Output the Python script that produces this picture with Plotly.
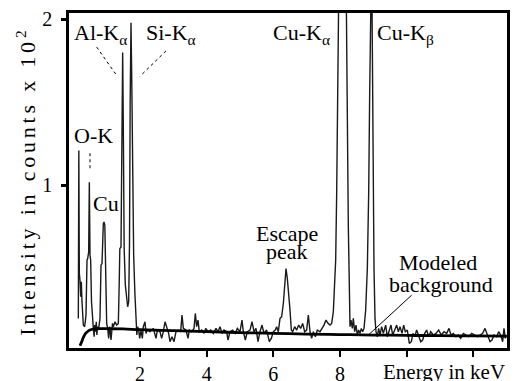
import plotly.graph_objects as go

# EDS spectrum: energy (keV) and intensity (counts x 10^2)
energy_keV = [
    0.150, 0.165, 0.180, 0.200, 0.220, 0.240, 0.260, 0.300, 0.340, 0.380,
    0.410, 0.430, 0.460, 0.480, 0.500, 0.520, 0.545, 0.575, 0.600, 0.625,
    0.640, 0.660, 0.690, 0.705, 0.730, 0.760, 0.800, 0.830, 0.860, 0.900,
    0.920, 0.945, 0.975, 1.000, 1.030, 1.060, 1.085, 1.100, 1.130, 1.160,
    1.175, 1.200, 1.250, 1.300, 1.350, 1.375, 1.395, 1.430, 1.455, 1.480,
    1.500, 1.525, 1.560, 1.600, 1.630, 1.660, 1.685, 1.705, 1.730, 1.755,
    1.780, 1.810, 1.845, 1.880, 1.905, 1.930, 1.960, 1.990,
    2.03, 2.07, 2.10, 2.15, 2.18, 2.22, 2.30, 2.40, 2.48, 2.52,
    2.60, 2.65, 2.70, 2.75, 2.80, 2.86, 2.90, 2.96, 3.02, 3.08,
    3.15, 3.22, 3.26, 3.30, 3.38, 3.44, 3.48, 3.55, 3.62, 3.66,
    3.70, 3.74, 3.78, 3.85, 3.92, 3.97, 4.05, 4.12, 4.20, 4.28,
    4.34, 4.40, 4.46, 4.52, 4.60, 4.64, 4.70, 4.78, 4.86, 4.92,
    5.00, 5.06, 5.10, 5.16, 5.22, 5.30, 5.36, 5.42, 5.48, 5.54,
    5.60, 5.66, 5.72, 5.80, 5.88, 5.94, 6.00, 6.06, 6.10, 6.15,
    6.20, 6.25, 6.30, 6.34, 6.38, 6.42, 6.46, 6.50, 6.54, 6.58,
    6.64, 6.70, 6.76, 6.82, 6.88, 6.94, 7.00, 7.05, 7.10, 7.15,
    7.20, 7.26, 7.32, 7.40, 7.46, 7.52, 7.58, 7.64, 7.70,
    7.75, 7.80, 7.84, 7.87, 7.90, 7.93, 7.96, 8.00, 8.05, 8.10,
    8.15, 8.19, 8.22, 8.25, 8.28, 8.30,
    8.33, 8.37, 8.40, 8.44, 8.48, 8.52, 8.56, 8.60, 8.64, 8.68,
    8.72, 8.77, 8.82, 8.86, 8.89, 8.92, 8.94, 8.96, 8.98, 9.00,
    9.02, 9.05, 9.08,
    9.12, 9.16, 9.20, 9.25, 9.30, 9.37, 9.42, 9.48, 9.53, 9.58,
    9.64, 9.70, 9.75, 9.80, 9.86, 9.91, 9.96, 10.02, 10.08, 10.14,
    10.19, 10.24, 10.30, 10.36, 10.42, 10.48, 10.54, 10.60, 10.66, 10.72,
    10.80, 10.88, 10.96, 11.04, 11.12, 11.20, 11.27, 11.33, 11.40, 11.48,
    11.55, 11.62, 11.70, 11.78, 11.86, 11.95, 12.04, 12.12, 12.20, 12.28,
    12.35, 12.42, 12.50, 12.56, 12.62, 12.70, 12.76, 12.82, 12.88, 12.92,
    12.96, 13.00,
]
intensity = [
    0.20, 1.21, 0.47, 0.43, 0.33, 0.42, 0.30, 0.16, 0.15, 0.22,
    0.55, 0.56, 0.60, 1.02, 0.58, 0.55, 0.30, 0.17, 0.14, 0.09,
    0.16, 0.12, 0.18, 0.10, 0.15, 0.14, 0.20, 0.52, 0.53, 0.77,
    0.78, 0.76, 0.40, 0.17, 0.14, 0.08, 0.15, 0.14, 0.07, 0.13,
    0.17, 0.15, 0.18, 0.16, 0.17, 0.40, 0.62, 0.63, 1.20, 1.80,
    1.35, 0.62, 0.40, 0.30, 0.27, 0.30, 0.65, 1.50, 1.98, 1.60,
    0.90, 0.58, 0.36, 0.19, 0.10, 0.15, 0.13, 0.08,
    0.13, 0.08, 0.15, 0.18, 0.11, 0.13, 0.12, 0.14, 0.08, 0.13,
    0.12, 0.08, 0.12, 0.18, 0.15, 0.11, 0.06, 0.09, 0.06, 0.12,
    0.13, 0.12, 0.22, 0.14, 0.13, 0.08, 0.13, 0.12, 0.14, 0.23,
    0.15, 0.19, 0.12, 0.13, 0.11, 0.14, 0.12, 0.13, 0.11, 0.14,
    0.12, 0.15, 0.11, 0.13, 0.12, 0.07, 0.12, 0.13, 0.11, 0.14,
    0.12, 0.19, 0.12, 0.07, 0.12, 0.13, 0.18, 0.12, 0.14, 0.06,
    0.12, 0.16, 0.11, 0.13, 0.06, 0.08, 0.12, 0.13, 0.15, 0.12,
    0.20, 0.21, 0.29, 0.38, 0.50, 0.44, 0.36, 0.25, 0.13, 0.12,
    0.15, 0.13, 0.16, 0.14, 0.17, 0.12, 0.13, 0.22, 0.12, 0.08,
    0.12, 0.09, 0.13, 0.12, 0.14, 0.16, 0.19, 0.17, 0.16,
    0.17, 0.24, 0.45, 0.55, 0.95, 1.70, 2.20, 2.90, 3.30, 3.10,
    2.60, 2.10, 1.30, 0.75, 0.40, 0.15,
    0.19, 0.14, 0.20, 0.12, 0.16, 0.10, 0.13, 0.11, 0.14, 0.12,
    0.14, 0.25, 0.50, 0.95, 1.55, 2.10, 2.30, 2.10, 1.50, 0.90,
    0.50, 0.20, 0.12,
    0.09, 0.14, 0.10, 0.15, 0.11, 0.16, 0.09, 0.13, 0.16, 0.10,
    0.13, 0.16, 0.12, 0.15, 0.11, 0.16, 0.12, 0.13, 0.05, 0.06,
    0.11, 0.09, 0.13, 0.10, 0.06, 0.07, 0.11, 0.13, 0.09, 0.12,
    0.10, 0.11, 0.13, 0.10, 0.12, 0.11, 0.14, 0.10, 0.11, 0.09,
    0.10, 0.08, 0.11, 0.10, 0.09, 0.11, 0.10, 0.09, 0.10, 0.11,
    0.14, 0.10, 0.06, 0.07, 0.10, 0.09, 0.12, 0.10, 0.06, 0.14,
    0.08, 0.10,
]

# Modeled bremsstrahlung background
bg_energy_keV = [0.20, 0.25, 0.30, 0.35, 0.42, 0.50, 0.60, 0.80, 1.00, 1.50,
                 2.00, 3.00, 4.00, 5.00, 6.00, 7.00, 8.00, 9.00, 10.00, 11.00,
                 12.00, 13.00]
bg_intensity = [0.035, 0.060, 0.085, 0.105, 0.120, 0.130, 0.135, 0.138, 0.138, 0.137,
                0.132, 0.126, 0.120, 0.115, 0.110, 0.106, 0.103, 0.100, 0.098, 0.096,
                0.095, 0.094]

x_tick_vals = [2, 4, 6, 8, 10, 12]
x_tick_text = ["2", "4", "6", "8", "", ""]
y_tick_vals = [1, 2]
y_tick_text = ["1", "2"]

SERIF = "Liberation Serif"

fig = go.Figure()
fig.add_trace(go.Scatter(
    x=energy_keV, y=intensity, mode="lines",
    line=dict(color="#1a1a1a", width=1.4), hoverinfo="skip", showlegend=False,
))
fig.add_trace(go.Scatter(
    x=bg_energy_keV, y=bg_intensity, mode="lines",
    line=dict(color="black", width=2.8, shape="spline"), hoverinfo="skip", showlegend=False,
))

# peak labels, one line each, placed in data coordinates
labels = [
    ("Al-K<sub>α</sub>", 0.82, 1.91),
    ("Si-K<sub>α</sub>", 2.93, 1.91),
    ("O-K", 0.60, 1.30),
    ("Cu", 0.97, 0.89),
    ("Cu-K<sub>α</sub>", 6.85, 1.91),
    ("Cu-K<sub>β</sub>", 9.95, 1.91),
    ("Escape", 6.42, 0.713),
    ("peak", 6.40, 0.600),
    ("Modeled", 10.93, 0.536),
    ("background", 11.03, 0.406),
]
for text, x, y in labels:
    fig.add_annotation(x=x, y=y, text=text, showarrow=False,
                       xanchor="center", yanchor="middle",
                       font=dict(family=SERIF, size=22, color="black"))

# leader lines
leaders = [
    (0.70, 1.833, 1.32, 1.657, "dot"),
    (2.78, 1.81, 2.00, 1.657, "dot"),
    (0.50, 1.194, 0.50, 1.092, "dot"),
    (10.15, 0.34, 8.85, 0.10, "solid"),
]
for x0, y0, x1, y1, dash in leaders:
    fig.add_shape(type="line", x0=x0, y0=y0, x1=x1, y1=y1,
                  line=dict(color="black", width=1, dash=dash))

fig.add_annotation(x=1.0, y=0, xref="paper", yref="paper", xanchor="right",
                   yanchor="top", yshift=-10, showarrow=False,
                   text="Energy in keV",
                   font=dict(family=SERIF, size=21, color="black"))
fig.add_annotation(x=0, y=0.49, xref="paper", yref="paper", xshift=-43,
                   xanchor="center", yanchor="middle", textangle=-90, showarrow=False,
                   text='<span style="letter-spacing:3.8px">Intensity in counts x 10</span><sup>2</sup>',
                   font=dict(family=SERIF, size=22, color="black"))

axis_common = dict(showline=True, mirror=True, linecolor="black", linewidth=2.5,
                   showgrid=False, zeroline=False, ticks="outside", automargin=False,
                   tickcolor="black", tickfont=dict(family=SERIF, size=20, color="black"))
fig.update_xaxes(range=[-0.13, 13.01], tickvals=x_tick_vals, ticktext=x_tick_text,
                 ticklen=6, tickwidth=2, **axis_common)
fig.update_yaxes(range=[0.022, 2.038], tickvals=y_tick_vals, ticktext=y_tick_text,
                 ticklen=5, tickwidth=3, ticklabelstandoff=5, **axis_common)

fig.update_layout(width=516, height=381, margin=dict(l=69, r=9, t=13, b=33),
                  plot_bgcolor="white", paper_bgcolor="white")
fig.write_html("out.html")
